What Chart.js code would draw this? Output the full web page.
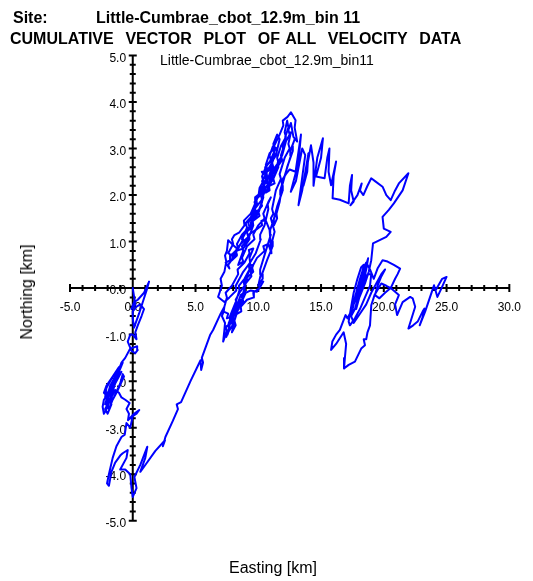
<!DOCTYPE html>
<html>
<head>
<meta charset="utf-8">
<script src="https://cdn.jsdelivr.net/npm/chart.js@4"></script>
<style>
body { margin: 0; background: #fff; }
#wrap { position: relative; width: 533px; height: 581px; font-family: Arial, "Liberation Sans", sans-serif; }
.t { position: absolute; white-space: pre; line-height: 1; color: #000; }
</style>
</head>
<body>
<div id="wrap">
  <canvas id="vecChart" width="533" height="581"></canvas>
  <div class="t" style="left:13px;top:10px;font-size:16px;font-weight:bold">Site:</div>
  <div class="t" style="left:96px;top:10px;font-size:16px;font-weight:bold">Little-Cumbrae_cbot_12.9m_bin 11</div>
  <div class="t" style="left:10px;top:31px;font-size:16px;font-weight:bold;word-spacing:1.4px">CUMULATIVE  VECTOR  PLOT  OF ALL  VELOCITY  DATA</div>
  <div class="t" style="left:160px;top:53px;font-size:14px">Little-Cumbrae_cbot_12.9m_bin11</div>
  <div class="t" style="left:273px;top:560px;font-size:16px;transform:translateX(-50%)">Easting [km]</div>
  <div class="t" style="left:27px;top:292px;font-size:16px;transform:translate(-50%,-50%) rotate(-90deg)">Northing [km]</div>
</div>
<script>
// cumulative path, [easting km, northing km]
const originTrack = [
  [0,0],[0.2,-0.35],[-0.1,-0.45],[0.1,-0.3],[0.4,-0.25],[0.9,-0.1],[1.3,0.14],[1.1,-0.05],[0.8,-0.3],[0.5,-0.55],
  [0.1,-0.85],[0.0,-0.65],[0.0,-0.5],[0.3,-0.4],[0.6,-0.35],[0.9,-0.45],[0.7,-0.6],[0.4,-0.8],[0.2,-0.95],[0.3,-1.1],
  [0.0,-1.0],[-0.2,-1.0],[-0.4,-1.15],[-0.1,-1.35],[0.2,-1.4],[0.4,-1.33],[0.35,-1.25],[-0.2,-1.3],[-0.6,-1.5],[-0.9,-1.6],
  [-1.3,-1.9],[-1.6,-2.05],[-1.9,-2.2],[-2.2,-2.35],[-2.1,-2.15],[-1.7,-1.95],[-1.2,-1.75],[-0.8,-1.6],[-1.1,-1.8],[-1.5,-2.0],
  [-1.9,-2.25],[-2.3,-2.4],[-2.4,-2.55],[-2.3,-2.7],[-2.0,-2.55],[-1.7,-2.3],[-1.4,-2.05],[-0.9,-1.8],[-1.1,-1.85],[-1.3,-1.95],
  [-1.7,-2.2],[-2.1,-2.45],[-1.9,-2.6],[-1.6,-2.4],[-1.2,-2.2],[-0.7,-1.9],[-0.8,-1.85],[-1.0,-2.05],[-1.5,-2.35],[-1.9,-2.45],
  [-2.2,-2.6],[-2.0,-2.7],[-1.7,-2.5],[-1.95,-2.35],[-2.3,-2.25],[-2.1,-2.1],[-1.6,-1.9],[-1.1,-1.7],[-0.9,-1.65],[-1.3,-1.85],
  [-1.8,-2.1],[-2.2,-2.5],[-1.8,-2.4],[-1.4,-2.19],[-1.1,-2.25],[-0.9,-2.35],[-0.6,-2.4],[-0.25,-2.47],[-0.5,-2.6],[-0.3,-2.7],
  [-0.38,-2.84],[0.1,-2.7],[0.52,-2.62],[0.3,-2.7],[0.0,-2.75],[-0.2,-3.0],[-0.5,-2.9],[-0.64,-3.15],[-0.9,-3.2],[-1.3,-3.4],
  [-1.6,-3.65],[-1.9,-4.0],[-2.05,-4.2],[-1.9,-4.25],[-1.7,-3.95],[-1.4,-3.75],[-1.0,-3.6],[-0.8,-3.55],[-0.4,-3.48],[-0.5,-3.65],
  [-1.0,-3.9],[-0.6,-3.9],[-0.2,-4.0],[-0.1,-4.3],[0.0,-4.49],[0.3,-4.3],[0.13,-4.06],[0.6,-3.8],[1.16,-3.41],[1.0,-3.65],
  [0.6,-3.95],[0.9,-3.84],[1.8,-3.5],[2.57,-3.27],[2.4,-3.4],[2.6,-3.2],[3.2,-2.85],[3.6,-2.6],[3.5,-2.5],[3.85,-2.45],
  [4.6,-2.0],[5.4,-1.55],[5.45,-1.76],[5.6,-1.6],[5.5,-1.5],[6.16,-1.01],[6.4,-0.9]
];
const bandTrack = [
  [7.0,-0.55],[7.3,-0.4],[7.25,-0.5],[7.1,-0.6],[7.35,-0.75],[7.3,-0.9],[7.2,-1.15],
  [7.4,-1.0],[7.5,-0.9],[7.45,-0.82],[7.9,-0.75],[8.0,-0.6],[7.95,-0.52],[8.4,-0.4],[8.5,-0.28],[8.6,-0.25],
  [8.4,-0.35],[8.45,-0.45],[8.1,-0.55],[7.9,-0.7],[8.0,-0.78],[7.6,-0.95],[7.45,-1.05],
  [7.7,-0.85],[7.65,-0.75],[7.9,-0.6],[8.3,-0.35],[8.2,-0.25],[8.5,-0.1],[8.9,0.05],[8.85,0.12],[9.1,0.2],
  [8.9,0.0],[8.95,-0.08],[8.6,-0.15],[8.2,-0.45],[8.3,-0.5],[7.9,-0.55],[7.6,-0.8],[7.7,-0.88],[7.55,-1.0],
  [7.8,-0.7],[7.75,-0.6],[8.2,-0.3],[8.5,-0.05],[8.45,0.05],[8.9,0.2],[9.3,0.4],[9.25,0.48],[9.6,0.5],
  [9.4,0.35],[9.45,0.25],[9.0,0.1],[8.7,-0.2],[8.8,-0.28],[8.4,-0.45],[8.1,-0.7],[8.2,-0.8],[7.9,-0.95],
  [8.1,-0.7],[8.0,-0.62],[8.5,-0.4],[9.0,-0.1],[9.4,-0.05],[9.9,-0.08],[10.4,0.14],
  [10.1,0.0],[9.6,-0.1],[9.65,-0.2],[9.1,-0.25],[8.6,-0.4],[8.65,-0.5],[8.0,-0.6],[7.5,-0.65],[7.6,-0.55],[7.2,-0.5],
  [7.5,-0.2],[7.4,-0.1],[7.9,0.05],[8.4,0.3],[8.35,0.4],[8.9,0.55],[9.3,0.75],[9.25,0.82],[9.6,0.85],
  [9.3,0.65],[9.35,0.55],[8.8,0.35],[8.2,0.05],[8.25,-0.05],[7.7,-0.2],[7.3,-0.3],[6.8,-0.19],[7.1,0.05],[7.0,0.2],
  [7.3,0.35],[7.45,0.57],[7.35,0.7],[7.5,0.8],[7.6,1.03],[7.9,0.95],[8.3,0.85],[8.2,0.78],[8.0,0.65],[7.6,0.5],[7.7,0.42],[7.4,0.55],
  [7.8,0.6],[7.75,0.7],[8.3,0.8],[8.8,1.05],[8.7,1.12],[9.2,1.25],[9.7,1.5],[9.65,1.6],[10.1,1.7],[10.3,1.85],
  [10.0,1.65],[10.1,1.55],[9.6,1.45],[9.1,1.2],[9.2,1.1],[8.6,0.95],[8.2,0.8],[8.3,0.72],[7.9,0.7],[7.6,0.75],
  [8.0,0.95],[7.9,1.05],[8.1,1.14],[8.5,1.2],[8.9,1.35],[8.85,1.45],[9.4,1.6],[9.8,1.85],[9.75,1.95],[10.2,2.05],[10.5,2.2],
  [10.2,2.0],[10.3,1.9],[9.7,1.7],[9.2,1.4],[9.3,1.32],[8.7,1.15],[8.3,0.95],[8.4,0.85],[8.0,0.75],[7.9,0.6],
  [8.3,0.7],[8.25,0.8],[8.8,0.85],[9.3,1.05],[9.25,1.15],[9.8,1.25],[10.3,1.35],[10.25,1.45],[10.6,1.45],[10.9,1.25],[11.05,0.75],
  [10.8,0.95],[10.4,0.9],[10.5,0.8],[9.9,0.65],[9.5,0.45],[9.6,0.35],[9.2,0.25],[9.0,0.2],
  [9.4,0.45],[9.35,0.55],[9.8,0.75],[10.2,1.05],[10.15,1.15],[10.5,1.35],[10.8,1.7],[10.75,1.8],[11.0,1.95],
  [10.8,1.85],[10.4,1.6],[10.5,1.5],[10.0,1.35],[9.6,1.15],[9.7,1.05],[9.1,0.9],[8.7,0.65],[8.8,0.57],[8.4,0.5],
  [8.8,0.8],[8.7,0.9],[9.2,1.05],[9.6,1.35],[9.55,1.45],[10.0,1.6],[10.4,1.95],[10.35,2.05],[10.8,2.25],[11.2,2.5],
  [11.0,2.4],[11.1,2.3],[10.6,2.15],[10.2,1.85],[10.3,1.77],[9.8,1.6],[9.4,1.4],[9.5,1.3],[9.0,1.2],[8.7,1.05],
  [9.1,1.3],[9.0,1.4],[9.5,1.55],[9.9,1.8],[9.85,1.9],[10.3,2.1],[10.7,2.4],[10.65,2.5],[11.0,2.65],[11.3,2.85],
  [11.1,2.7],[11.2,2.6],[10.7,2.5],[10.3,2.3],[10.4,2.2],[10.0,2.0],[9.7,1.75],[9.8,1.65],[9.5,1.55],[9.4,1.45],
  [9.8,1.75],[9.7,1.85],[10.2,2.05],[10.6,2.35],[10.55,2.45],[11.0,2.6],[11.3,2.85],[11.25,2.95],[11.5,3.0],[11.17,3.05],
  [10.9,2.85],[11.0,2.75],[10.6,2.6],[10.3,2.4],[10.4,2.3],[10.1,2.15],[10.0,1.95],
  [10.3,2.05],[10.25,2.15],[10.7,2.3],[11.1,2.6],[11.05,2.7],[11.4,2.85],[11.7,3.2],[11.5,3.3],
  [11.2,3.1],[11.3,3.0],[10.9,2.9],[10.6,2.65],[10.7,2.57],[10.4,2.45],[10.28,2.5],
  [10.6,2.5],[10.55,2.6],[10.9,2.7],[11.3,2.95],[11.25,3.05],[11.7,3.3],[12.0,3.5],[11.95,3.6],[12.33,3.68],[12.6,3.78],[12.97,3.61],
  [12.9,3.45],[13.1,3.15],[12.8,3.25],[12.6,3.55],[12.4,3.4],[12.5,3.3],[12.1,3.1],[11.8,2.85],[11.9,2.75],[11.5,2.6],
  [11.2,2.35],[11.3,2.25],[10.9,2.2],[10.6,2.05],
  [10.9,2.1],[10.85,2.2],[11.2,2.35],[11.6,2.6],[11.55,2.7],[11.9,2.85],[12.2,3.15],[12.15,3.25],[12.4,3.45],[12.3,3.6],
  [12.1,3.35],[12.2,3.25],[11.8,3.05],[11.5,2.8],[11.6,2.7],[11.2,2.55],[10.9,2.35],[11.0,2.27],[10.7,2.25],
  [11.0,2.3],[11.3,2.45],[11.25,2.55],[11.6,2.65],[12.0,2.95],[11.95,3.05],[12.4,3.25],[12.6,3.35],
  [12.4,3.1],[12.5,3.0],[12.1,2.8],[11.7,2.45],[11.8,2.35],[11.4,2.1],[11.1,1.7],[11.2,1.6],[11.0,1.5],[11.3,1.21],
  [11.1,1.0],[11.15,0.9],[10.7,0.6],[10.3,0.3],[10.35,0.2],[10.0,0.05],[10.2,0.3],[10.15,0.4],[10.6,0.8],[11.0,1.15],
  [10.95,1.25],[11.4,1.6],[11.8,2.0],[11.75,2.1],[12.2,2.5],[12.6,2.85],[12.55,2.95],[12.9,3.2],[12.7,3.05],[12.75,2.95],
  [12.3,2.6],[11.9,2.2],[11.95,2.1],[11.5,1.75],[11.2,1.45],[11.25,1.35],
  [11.5,1.5],[11.45,1.6],[11.7,1.85],[11.9,2.2],[11.85,2.3],[12.2,2.45],[12.5,2.55]
];
const ridgeTrack = [
  [12.97,2.5],[13.4,3.3],[13.2,2.7],[12.59,2.07],[13.0,2.3],[13.5,3.0],[13.74,2.86],[13.2,1.78],[13.5,2.1],[14.0,2.9],
  [13.9,2.5],[13.6,2.2],[14.2,3.07],[14.4,2.7],[14.4,2.2],[14.7,2.8],[15.15,3.22],[15.0,2.8],[14.6,2.4],[15.28,2.36],
  [15.5,2.8],[15.67,3.0],[15.6,2.5],[15.8,2.21],[16.2,2.72],[16.0,2.4],[15.92,1.93],[16.5,1.9],[17.2,1.82],[17.3,2.2],
  [17.47,2.43],[17.4,2.1],[17.6,1.86],[17.34,1.78],[17.9,2.0],[18.24,2.25],[18.1,2.1],[18.37,2.0],[18.7,2.2],[19.0,2.36],
  [19.3,2.3],[19.9,2.18],[20.2,2.0],[20.55,1.89],[20.9,2.1],[21.2,2.25],[21.96,2.47],[21.5,2.1],[20.8,1.82],[20.4,1.68],
  [19.9,1.53],[20.0,1.28],[20.55,1.21],[20.2,1.1],[19.14,0.96],[19.0,0.6]
];
const eastTrack = [
  [18.8,0.35],[18.5,0.1],[18.2,-0.1],[17.9,-0.3],[17.8,-0.45],[18.0,-0.25],[18.3,0.05],[18.6,0.4],[18.75,0.64],[18.6,0.5],
  [18.3,0.2],[18.0,-0.15],[17.7,-0.45],[17.4,-0.6],[17.5,-0.4],[17.8,-0.1],[18.1,0.2],[18.4,0.45],[18.6,0.55],[18.9,0.4],
  [19.2,0.2],[19.5,0.42],[19.9,0.6],[20.3,0.57],[20.8,0.5],[21.3,0.42],[21.1,0.3],[20.9,0.2],[20.55,0.0],[20.1,-0.1],
  [19.65,-0.22],[19.3,-0.15],[19.5,0.05],[19.8,0.25],[20.1,0.4],[19.8,0.3],[19.4,0.1],[19.0,-0.1],[18.6,-0.35],[18.1,-0.55],
  [17.6,-0.75],[17.4,-0.6],[17.6,-0.35],[17.9,-0.15],[18.3,0.05],[18.7,0.3],[19.0,0.3],[18.9,0.05],[18.5,-0.2],[18.1,-0.45],
  [17.7,-0.65],[17.3,-0.8],[17.2,-0.72],[17.4,-0.4],[17.6,-0.1],[17.9,0.2],[18.2,0.45],[18.4,0.5],[18.2,0.2],[17.8,-0.2],
  [17.4,-0.5],[17.1,-0.65],[16.95,-0.58],[16.5,-0.9],[16.2,-1.0],[15.9,-1.15],[15.8,-1.33],[16.2,-1.2],[16.8,-0.95],[17.0,-1.2],
  [16.9,-1.5],[16.83,-1.73],[17.2,-1.65],[17.7,-1.58],[18.2,-1.3],[18.5,-1.23],[18.4,-1.1],[18.6,-1.1],[18.7,-0.95],[18.9,-0.8],
  [19.0,-0.37],[19.26,-0.15],[19.8,0.1],[20.2,0.05],[20.55,0.0],[21.2,-0.15],[20.9,-0.35],[21.06,-0.58],[21.5,-0.3],[22.1,-0.19],
  [22.3,-0.22],[22.5,-0.4],[21.96,-0.87],[22.34,-0.8],[22.7,-0.72],[23.1,-0.5],[23.24,-0.44],[23.1,-0.62],[22.86,-0.8],[23.3,-0.5],
  [24.0,0.06],[24.27,-0.19],[24.6,0.0],[25.0,0.24],[24.65,0.2],[24.14,-0.04]
];

const xMajorTicks = [-5, 0, 5, 10, 15, 20, 25, 30];
const yMajorTicks = [-5, -4, -3, -2, -1, 0, 1, 2, 3, 4, 5];
const xMinorStep = 1;
const yMinorStep = 0.2;

const pathPoints = [...originTrack, ...bandTrack, ...ridgeTrack, ...eastTrack]
  .map(p => ({ x: p[0], y: p[1] }));

// axes crossing at the origin, ticks on both sides
const crossAxes = {
  id: 'crossAxes',
  beforeDatasetsDraw(chart) {
    const { ctx, chartArea, scales: { x, y } } = chart;
    const x0 = x.getPixelForValue(0);
    const y0 = y.getPixelForValue(0);
    ctx.save();
    ctx.strokeStyle = '#000';
    ctx.lineWidth = 2;
    ctx.beginPath();
    ctx.moveTo(chartArea.left, y0);
    ctx.lineTo(chartArea.right, y0);
    ctx.moveTo(x0, chartArea.top);
    ctx.lineTo(x0, chartArea.bottom);
    const nx = Math.round((x.max - x.min) / xMinorStep);
    for (let i = 0; i <= nx; i++) {
      const v = x.min + i * xMinorStep;
      const px = x.getPixelForValue(v);
      const h = xMajorTicks.includes(v) ? 4 : 3;
      ctx.moveTo(px, y0 - h);
      ctx.lineTo(px, y0 + h);
    }
    const ny = Math.round((y.max - y.min) / yMinorStep);
    for (let i = 0; i <= ny; i++) {
      const py = y.getPixelForValue(y.min + i * yMinorStep);
      const h = i % 5 === 0 ? 4 : 3;
      ctx.moveTo(x0 - h, py);
      ctx.lineTo(x0 + h, py);
    }
    ctx.stroke();
    ctx.restore();
  }
};

const tickFont = { family: 'Arial, "Liberation Sans", sans-serif', size: 12 };

const ctx = document.getElementById('vecChart').getContext('2d');
const vecChart = new Chart(ctx, {
  type: 'line',
  data: {
    datasets: [{
      label: 'Little-Cumbrae_cbot_12.9m_bin11',
      data: pathPoints,
      borderColor: '#0000ff',
      borderWidth: 2,
      pointRadius: 0,
      tension: 0,
      fill: false,
      borderJoinStyle: 'round',
      borderCapStyle: 'round'
    }]
  },
  options: {
    responsive: false,
    animation: false,
    devicePixelRatio: 1,
    parsing: false,
    layout: { padding: { left: 70, right: 14, top: 55.5, bottom: 60.3 } },
    plugins: {
      legend: { display: false },
      tooltip: { enabled: false }
    },
    scales: {
      x: {
        type: 'linear',
        min: -5,
        max: 30,
        position: { y: 0 },
        grid: { display: false, drawTicks: false },
        border: { display: false },
        afterBuildTicks: s => { s.ticks = xMajorTicks.map(v => ({ value: v })); },
        ticks: {
          color: '#000',
          font: tickFont,
          padding: 12,
          autoSkip: false,
          maxRotation: 0,
          callback: v => Number(v).toFixed(1)
        }
      },
      y: {
        type: 'linear',
        min: -5,
        max: 5,
        position: { x: 0 },
        grid: { display: false, drawTicks: false },
        border: { display: false },
        afterBuildTicks: s => { s.ticks = yMajorTicks.map(v => ({ value: v })); },
        ticks: {
          color: '#000',
          font: tickFont,
          labelOffset: 3,
          autoSkip: false,
          // right-aligned on the axis line, so pad with spaces
          callback: v => Number(v).toFixed(1) + '  '
        }
      }
    }
  },
  plugins: [crossAxes]
});
</script>
</body>
</html>
